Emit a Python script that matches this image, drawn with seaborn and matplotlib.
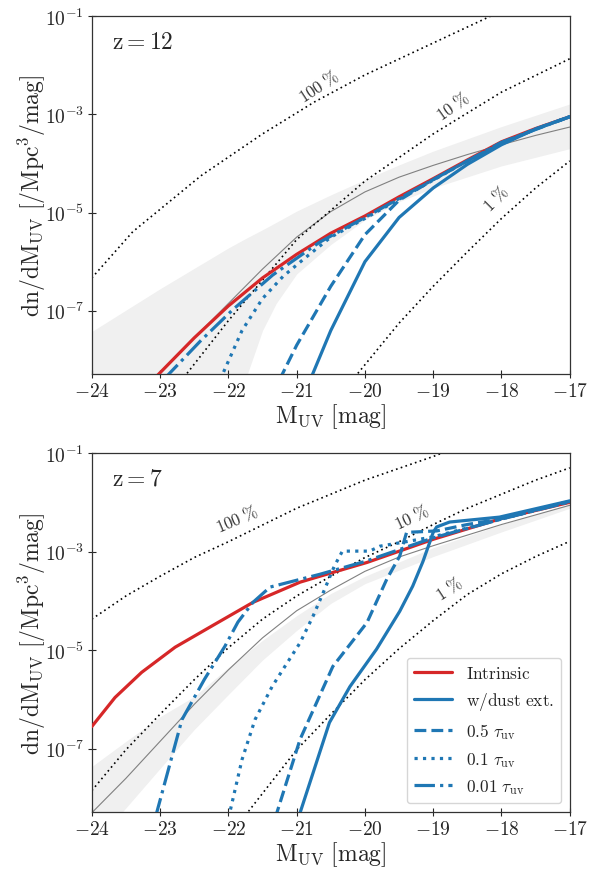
import numpy as np
import matplotlib
matplotlib.use("Agg")
import matplotlib.pyplot as plt
import seaborn as sns
from matplotlib.ticker import FixedLocator, FuncFormatter, NullLocator

# ---------------- data (y values are log10 of dn/dM_UV) ----------------
# z = 12 panel
z12_int_x = [-23.1, -22.5, -22.0, -21.5, -21.0, -20.5, -20.0, -19.5, -19.0, -18.5, -18.0, -17.5, -17.0]
z12_int_y = [-8.4, -7.55, -6.9, -6.33, -5.85, -5.42, -5.07, -4.68, -4.31, -3.93, -3.56, -3.29, -3.05]
z12_dust_x = [-20.8, -20.5, -20.0, -19.5, -19.0, -18.5, -18.0, -17.5, -17.0]
z12_dust_y = [-8.4, -7.4, -6.0, -5.1, -4.5, -4.02, -3.62, -3.3, -3.05]
z12_t05_x = [-21.25, -21.0, -20.5, -20.0, -19.5, -19.0, -18.5, -18.0, -17.5, -17.0]
z12_t05_y = [-8.4, -7.7, -6.5, -5.45, -4.75, -4.33, -3.95, -3.6, -3.3, -3.05]
z12_t01_x = [-22.12, -21.8, -21.5, -21.2, -20.9, -20.5, -20.0, -19.5, -19.0, -18.5, -18.0, -17.5, -17.0]
z12_t01_y = [-8.4, -7.4, -6.75, -6.3, -5.95, -5.5, -5.12, -4.73, -4.34, -3.95, -3.58, -3.3, -3.05]
z12_t001_x = [-22.95, -22.4, -21.93, -21.35, -20.66, -20.0, -19.0, -18.0, -17.0]
z12_t001_y = [-8.4, -7.6, -6.97, -6.27, -5.6, -5.1, -4.33, -3.57, -3.05]
z12_fit_x = [-23.05, -22.5, -22.0, -21.5, -21.0, -20.5, -20.0, -19.5, -19.0, -18.5, -18.0, -17.5, -17.0]
z12_fit_y = [-8.35, -7.55, -6.85, -6.15, -5.5, -4.98, -4.58, -4.28, -4.04, -3.82, -3.62, -3.43, -3.26]
z12_band_x = [-24.0, -23.0, -22.0, -21.75, -21.5, -21.3, -21.0, -20.5, -20.0, -19.5, -19.0, -18.0, -17.0]
z12_band_hi = [-7.42, -6.55, -5.72, -5.53, -5.35, -5.2, -4.97, -4.64, -4.33, -4.03, -3.75, -3.25, -2.79]
z12_band_lo = [-10.0, -9.5, -9.0, -8.4, -7.4, -6.85, -6.25, -5.65, -5.15, -4.78, -4.5, -4.05, -3.7]
z12_e100_x = [-24.0, -23.4, -22.4, -21.5, -20.74, -20.0, -19.0, -18.0]
z12_e100_y = [-6.33, -5.39, -4.25, -3.4, -2.75, -2.2, -1.55, -0.9]
z12_e10_x = [-22.65, -22.0, -21.0, -20.0, -19.0, -18.0, -17.0]
z12_e10_y = [-8.35, -7.2, -5.55, -4.36, -3.4, -2.55, -1.87]
z12_e1_x = [-20.15, -19.5, -19.0, -18.5, -18.0, -17.5, -17.0]
z12_e1_y = [-8.35, -7.25, -6.5, -5.8, -5.12, -4.5, -3.95]

# z = 7 panel
z7_int_x = [-24.0, -23.66, -23.27, -22.78, -22.23, -21.64, -20.95, -20.66, -19.97, -19.0, -18.03, -17.0]
z7_int_y = [-6.55, -5.96, -5.45, -4.94, -4.5, -4.03, -3.62, -3.5, -3.22, -2.75, -2.34, -2.0]
z7_dust_x = [-21.0, -20.95, -20.52, -20.22, -19.83, -19.49, -19.3, -19.15, -19.0, -18.95, -18.76, -18.03, -17.0]
z7_dust_y = [-8.4, -8.3, -6.47, -5.74, -4.98, -4.21, -3.7, -3.2, -2.61, -2.5, -2.4, -2.3, -1.97]
z7_t05_x = [-21.33, -21.29, -20.95, -20.47, -19.97, -19.68, -19.49, -19.39, -18.95, -18.5, -18.03, -17.0]
z7_t05_y = [-8.4, -8.3, -6.81, -5.33, -4.44, -3.56, -3.09, -2.61, -2.58, -2.45, -2.34, -1.98]
z7_t01_x = [-22.0, -21.98, -21.8, -21.61, -21.36, -21.2, -20.95, -20.76, -20.61, -20.45, -20.33, -19.93, -19.78, -19.4, -19.0, -18.0, -17.0]
z7_t01_y = [-8.4, -8.3, -7.22, -6.41, -5.74, -5.39, -4.85, -4.31, -3.83, -3.3, -2.99, -2.99, -2.89, -2.8, -2.7, -2.34, -1.98]
z7_t001_x = [-23.08, -23.05, -22.68, -22.35, -22.05, -21.86, -21.64, -21.39, -20.66, -20.0, -19.0, -18.0, -17.0]
z7_t001_y = [-8.4, -8.3, -6.41, -5.59, -4.92, -4.43, -4.03, -3.72, -3.46, -3.2, -2.72, -2.34, -1.99]
z7_fit_x = [-24.0, -23.5, -23.0, -22.5, -22.0, -21.5, -21.0, -20.5, -20.0, -19.5, -19.0, -18.0, -17.0]
z7_fit_y = [-8.3, -7.6, -6.85, -6.1, -5.4, -4.75, -4.2, -3.78, -3.4, -3.11, -2.88, -2.45, -2.06]
z7_band_x = [-24.0, -23.5, -23.0, -22.5, -22.0, -21.5, -21.0, -20.5, -20.0, -19.0, -18.0, -17.0]
z7_band_hi = [-7.36, -6.85, -6.35, -5.94, -5.35, -4.8, -4.3, -3.85, -3.5, -2.92, -2.45, -2.03]
z7_band_lo = [-9.0, -8.2, -7.4, -6.61, -5.9, -5.2, -4.6, -4.05, -3.65, -3.1, -2.6, -2.12]
z7_e100_x = [-24.0, -23.5, -23.0, -22.5, -22.0, -21.0, -20.0, -19.0, -18.5]
z7_e100_y = [-4.37, -3.9, -3.5, -3.12, -2.8, -2.12, -1.55, -1.07, -0.8]
z7_e10_x = [-24.0, -23.5, -23.0, -22.5, -22.0, -21.5, -21.0, -20.5, -20.0, -19.5, -19.0, -18.5, -17.5, -17.0]
z7_e10_y = [-7.85, -7.02, -6.3, -5.6, -4.95, -4.37, -3.9, -3.5, -3.12, -2.8, -2.45, -2.12, -1.55, -1.3]
z7_e1_x = [-21.75, -21.0, -20.5, -20.0, -19.5, -19.0, -18.5, -18.0, -17.5, -17.0]
z7_e1_y = [-8.35, -7.02, -6.3, -5.6, -4.97, -4.4, -3.87, -3.45, -3.1, -2.79]

xticks = [-24, -23, -22, -21, -20, -19, -18, -17]
yticks = [1e-7, 1e-5, 1e-3, 1e-1]
legend_labels = [r'$\mathrm{Intrinsic}$', r'$\mathrm{w/dust\ ext.}$',
                 r'$0.5\ \tau_{\rm uv}$', r'$0.1\ \tau_{\rm uv}$', r'$0.01\ \tau_{\rm uv}$']

RED = '#d62728'
BLUE = '#1f77b4'

sns.set_style('ticks')
plt.rcParams['mathtext.fontset'] = 'cm'
plt.rcParams['font.family'] = ['DejaVu Serif']


def lin(v):
    return 10.0 ** np.asarray(v)


def panel(ax, d, ztext, labels):
    ax.fill_between(d['band_x'], lin(d['band_lo']), lin(d['band_hi']),
                    color='#f0f0f0', lw=0, zorder=0)
    sns.lineplot(x=d['fit_x'], y=lin(d['fit_y']), ax=ax, color='grey', lw=0.8,
                 estimator=None, sort=False, legend=False, zorder=1)
    for k in ['e100', 'e10', 'e1']:
        sns.lineplot(x=d[k + '_x'], y=lin(d[k + '_y']), ax=ax, color='k', lw=1.2,
                     linestyle=(0, (1, 2)), estimator=None, sort=False,
                     legend=False, zorder=2)
    styles = [('int', RED, '-'), ('dust', BLUE, '-'), ('t05', BLUE, '--'),
              ('t01', BLUE, ':'), ('t001', BLUE, '-.')]
    handles = []
    for (k, c, ls) in styles:
        sns.lineplot(x=d[k + '_x'], y=lin(d[k + '_y']), ax=ax, color=c, lw=2.3,
                     linestyle=ls, estimator=None, sort=False, legend=False, zorder=3)
        handles.append(ax.lines[-1])

    ax.set_yscale('log')
    ax.set_xlim(-24, -17)
    ax.set_ylim(5.2e-9, 1e-1)
    ax.xaxis.set_major_locator(FixedLocator(xticks))
    ax.yaxis.set_major_locator(FixedLocator(yticks))
    ax.yaxis.set_minor_locator(NullLocator())
    ax.xaxis.set_minor_locator(NullLocator())
    ax.xaxis.set_major_formatter(FuncFormatter(lambda v, p: r'$%d$' % round(v)))
    ax.yaxis.set_major_formatter(FuncFormatter(lambda v, p: r'$10^{%d}$' % round(np.log10(v))))
    ax.tick_params(direction='inout', length=6, width=0.8, labelsize=14,
                   colors='0.15', pad=2.5)
    for s in ax.spines.values():
        s.set_visible(True)
        s.set_linewidth(0.9)
        s.set_color('0.2')
    ax.set_xlabel(r'$\mathrm{M_{UV}\ [mag]}$', fontsize=17, labelpad=1)
    ax.set_ylabel(r'$\mathrm{dn/dM_{UV}\ [/Mpc^3/mag]}$', fontsize=17, labelpad=-2)
    ax.text(0.042, 0.93, ztext, transform=ax.transAxes, fontsize=17, va='center', ha='left')
    for (tx, ty, t, rot) in labels:
        ax.text(tx, 10 ** ty, t, fontsize=12, rotation=rot, ha='center', va='center',
                color='0.2', rotation_mode='anchor')
    return handles


fig = plt.figure(figsize=(6.12, 8.70), dpi=100)
ax1 = fig.add_axes([0.150, 0.569, 0.781, 0.4115])
ax2 = fig.add_axes([0.150, 0.0655, 0.781, 0.4126])

d12 = dict(int_x=z12_int_x, int_y=z12_int_y, dust_x=z12_dust_x, dust_y=z12_dust_y,
           t05_x=z12_t05_x, t05_y=z12_t05_y, t01_x=z12_t01_x, t01_y=z12_t01_y,
           t001_x=z12_t001_x, t001_y=z12_t001_y, fit_x=z12_fit_x, fit_y=z12_fit_y,
           band_x=z12_band_x, band_hi=z12_band_hi, band_lo=z12_band_lo,
           e100_x=z12_e100_x, e100_y=z12_e100_y, e10_x=z12_e10_x, e10_y=z12_e10_y,
           e1_x=z12_e1_x, e1_y=z12_e1_y)
d7 = dict(int_x=z7_int_x, int_y=z7_int_y, dust_x=z7_dust_x, dust_y=z7_dust_y,
          t05_x=z7_t05_x, t05_y=z7_t05_y, t01_x=z7_t01_x, t01_y=z7_t01_y,
          t001_x=z7_t001_x, t001_y=z7_t001_y, fit_x=z7_fit_x, fit_y=z7_fit_y,
          band_x=z7_band_x, band_hi=z7_band_hi, band_lo=z7_band_lo,
          e100_x=z7_e100_x, e100_y=z7_e100_y, e10_x=z7_e10_x, e10_y=z7_e10_y,
          e1_x=z7_e1_x, e1_y=z7_e1_y)

panel(ax1, d12, r'$\mathrm{z} = 12$',
      [(-20.66, -2.42, r'$100\ \%$', 33), (-18.71, -2.83, r'$10\ \%$', 35),
       (-18.07, -4.72, r'$1\ \%$', 45)])
h = panel(ax2, d7, r'$\mathrm{z} = 7$',
          [(-21.86, -2.34, r'$100\ \%$', 23), (-19.31, -2.3, r'$10\ \%$', 25),
           (-18.76, -3.76, r'$1\ \%$', 33)])
ax2.legend(handles=h, labels=legend_labels, loc='lower right', fontsize=12.5,
           handlelength=2.2, frameon=True, fancybox=True, framealpha=0.8,
           edgecolor='0.8')

fig.savefig('out.png', dpi=100)
